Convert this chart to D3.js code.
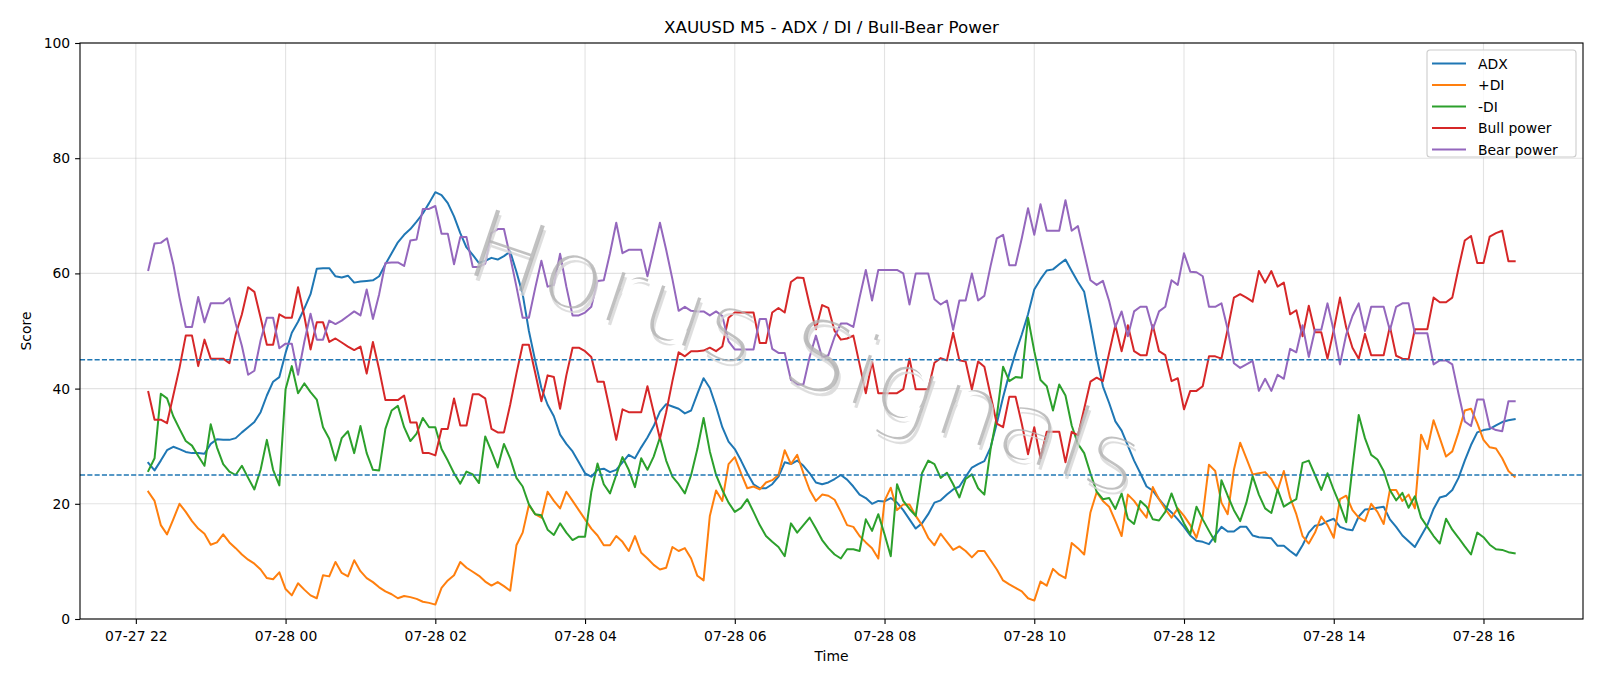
<!DOCTYPE html>
<html>
<head>
<meta charset="utf-8">
<script src="https://cdn.jsdelivr.net/npm/d3@7"></script>
<style>
  body { margin: 0; background: #fff; }
  svg { display: block; font-family: 'DejaVu Sans', sans-serif; }
</style>
</head>
<body>
<script>
const width = 1600;
const height = 686;
const margin = { top: 43, right: 17, bottom: 67, left: 80 };

// M5 bars, first one at 07-27 22:10
const startTime = new Date(2025, 6, 27, 22, 10);
const stepMinutes = 5;

const yTicks = [0, 20, 40, 60, 80, 100];
const levels = [25, 45];

const adx = [
  27.1, 25.8, 27.5, 29.3, 29.9, 29.5, 29.0, 28.8, 28.8, 28.7, 30.4, 31.2, 31.1, 31.1, 31.4, 32.4, 33.3, 34.2, 35.9, 38.8,
  41.2, 42.0, 46.2, 49.7, 51.6, 53.9, 56.4, 60.8, 60.9, 60.9, 59.5, 59.3, 59.6, 58.4, 58.6, 58.7, 58.8, 59.5, 61.6, 63.5,
  65.4, 66.7, 67.7, 69.0, 70.4, 72.2, 74.1, 73.6, 72.2, 69.9, 67.0, 64.5, 63.2, 61.8, 62.2, 62.7, 62.4, 63.0, 63.8, 60.3,
  56.4, 50.0, 44.9, 40.1, 37.2, 35.2, 32.0, 30.4, 29.1, 27.2, 25.3, 24.7, 25.9, 26.1, 25.5, 25.9, 27.2, 28.5, 27.9, 29.8,
  31.5, 33.5, 36.0, 37.3, 36.9, 36.5, 35.7, 36.2, 39.1, 41.8, 40.1, 36.9, 33.3, 30.8, 29.5, 27.5, 25.3, 23.4, 22.7, 22.7,
  23.4, 24.7, 27.2, 26.9, 27.5, 26.6, 25.3, 23.7, 23.4, 23.7, 24.3, 25.0, 24.2, 23.0, 21.6, 21.0, 20.0, 20.5, 20.4, 21.0,
  20.2, 18.9, 17.3, 15.7, 16.6, 18.2, 20.2, 20.6, 21.6, 22.5, 23.0, 24.7, 26.3, 26.9, 27.4, 29.8, 34.0, 38.5, 42.6, 46.2,
  49.4, 52.9, 57.2, 59.0, 60.5, 60.7, 61.6, 62.4, 60.4, 58.5, 56.8, 51.3, 45.5, 40.4, 37.5, 34.3, 32.7, 30.1, 27.5, 25.3,
  23.0, 22.3, 20.8, 19.5, 18.5, 17.3, 16.0, 14.5, 13.6, 13.4, 13.0, 14.5, 16.0, 15.2, 15.2, 16.0, 16.0, 14.5, 14.2, 14.1,
  14.0, 12.7, 12.7, 11.8, 11.0, 12.8, 15.0, 16.2, 16.4, 17.0, 17.4, 16.0, 15.6, 15.4, 17.8, 19.0, 19.1, 19.3, 19.5, 17.3,
  16.0, 14.5, 13.5, 12.5, 14.4, 16.3, 19.1, 21.1, 21.4, 22.4, 24.5, 27.5, 30.2, 32.4, 32.8, 33.0, 33.6, 34.2, 34.5, 34.7
];

const plusDi = [
  22.1, 20.5, 16.3, 14.7, 17.3, 20.0, 18.6, 17.0, 15.7, 14.8, 12.9, 13.3, 14.7, 13.3, 12.3, 11.2, 10.3, 9.6, 8.6, 7.1,
  6.9, 8.1, 5.2, 4.1, 6.2, 5.1, 4.1, 3.6, 7.6, 7.4, 9.9, 8.0, 7.4, 10.2, 8.3, 7.1, 6.4, 5.5, 4.8, 4.3,
  3.6, 4.0, 3.8, 3.5, 3.0, 2.8, 2.5, 5.4, 6.7, 7.6, 9.9, 8.9, 8.2, 7.5, 6.5, 5.8, 6.4, 5.7, 4.9, 12.8,
  15.0, 19.8, 18.2, 17.6, 22.1, 20.5, 19.2, 22.1, 20.5, 18.9, 17.3, 15.7, 14.5, 12.8, 12.8, 14.4, 13.4, 11.8, 14.4, 11.5,
  10.5, 9.4, 8.6, 8.9, 12.5, 11.8, 12.3, 10.5, 7.5, 6.7, 17.9, 22.3, 20.5, 26.9, 28.1, 25.3, 22.7, 23.0, 22.5, 23.7,
  24.1, 25.0, 29.3, 26.9, 28.5, 25.3, 22.4, 20.5, 21.6, 21.4, 20.7, 18.6, 16.3, 16.0, 14.4, 13.3, 12.3, 10.5, 20.5, 22.8,
  18.9, 19.9, 19.9, 17.9, 16.3, 14.1, 12.8, 14.8, 13.4, 12.0, 12.6, 11.8, 10.7, 11.8, 11.8, 10.2, 8.6, 6.7, 6.0, 5.4,
  4.8, 3.6, 3.2, 6.5, 5.8, 8.7, 7.7, 7.1, 13.2, 12.3, 11.2, 18.5, 22.0, 20.5, 19.5, 17.0, 14.4, 21.6, 20.5, 19.0,
  17.6, 22.9, 20.8, 19.1, 17.6, 19.2, 17.9, 16.3, 14.1, 17.9, 26.8, 25.7, 20.2, 18.2, 25.9, 30.6, 27.9, 25.1, 25.3, 25.5,
  24.3, 22.3, 25.7, 21.1, 18.2, 14.4, 13.1, 15.0, 17.8, 16.3, 14.1, 20.8, 21.4, 18.9, 17.6, 17.0, 20.0, 18.6, 16.5, 22.4,
  22.4, 20.5, 21.6, 19.2, 32.0, 29.5, 34.5, 31.4, 28.2, 29.1, 32.4, 36.2, 36.5, 34.0, 31.1, 29.8, 29.6, 27.9, 25.7, 24.7
];

const minusDi = [
  25.7, 27.9, 39.1, 38.3, 35.2, 33.0, 30.9, 30.1, 28.3, 26.6, 33.8, 29.8, 26.9, 25.6, 25.0, 26.6, 24.5, 22.5, 25.9, 31.1,
  25.9, 23.2, 39.9, 43.9, 39.2, 40.9, 39.4, 38.1, 33.3, 31.3, 27.5, 31.4, 32.6, 28.8, 33.5, 28.8, 25.9, 25.8, 33.0, 36.2,
  37.0, 33.3, 30.9, 32.2, 34.9, 33.3, 33.3, 29.5, 27.5, 25.3, 23.5, 25.6, 25.1, 23.6, 31.7, 29.1, 26.3, 30.4, 27.9, 24.5,
  23.0, 19.9, 18.2, 18.0, 15.5, 14.6, 16.6, 15.0, 13.7, 14.3, 14.3, 22.0, 27.0, 23.4, 21.8, 25.0, 28.1, 25.9, 22.9, 27.9,
  25.9, 28.2, 31.5, 27.5, 24.7, 23.4, 21.8, 25.0, 29.5, 34.9, 29.1, 25.0, 22.4, 20.2, 18.6, 19.3, 20.8, 18.6, 16.3, 14.4,
  13.4, 12.5, 10.9, 16.6, 15.0, 16.3, 17.6, 15.7, 13.7, 12.3, 11.2, 10.5, 12.1, 12.1, 11.8, 17.3, 15.3, 18.2, 14.7, 10.9,
  23.4, 20.5, 19.1, 17.9, 25.3, 27.5, 26.9, 24.5, 25.4, 23.4, 21.1, 24.3, 25.1, 22.7, 21.6, 29.5, 35.2, 43.8, 41.3, 42.0,
  41.9, 52.3, 46.5, 41.5, 40.4, 36.2, 40.7, 38.8, 33.6, 30.4, 28.8, 25.3, 22.1, 20.8, 21.0, 19.1, 21.8, 17.4, 16.5, 20.5,
  19.5, 17.3, 17.1, 18.6, 21.8, 18.9, 16.6, 14.7, 19.5, 17.3, 15.3, 13.4, 24.1, 21.4, 18.9, 17.0, 20.2, 24.8, 21.6, 19.2,
  18.4, 22.5, 19.5, 20.2, 20.8, 27.1, 27.5, 25.0, 22.4, 25.3, 22.4, 19.8, 16.8, 26.3, 35.4, 31.4, 28.5, 27.7, 25.7, 22.4,
  20.6, 21.9, 19.3, 21.3, 17.6, 16.0, 14.4, 13.1, 17.4, 15.5, 14.1, 12.6, 11.2, 15.0, 14.2, 12.9, 12.1, 12.0, 11.6, 11.4
];

const bullPower = [
  39.4, 34.6, 34.6, 34.0, 38.8, 43.6, 49.2, 49.2, 43.9, 48.5, 45.2, 45.2, 45.2, 44.4, 49.4, 52.9, 57.6, 56.8, 52.3, 47.6,
  47.6, 52.9, 52.3, 52.3, 57.6, 52.6, 46.8, 51.5, 51.5, 48.1, 48.7, 48.0, 47.3, 46.7, 47.3, 42.6, 48.1, 43.3, 38.0, 38.0,
  38.0, 38.8, 34.1, 34.1, 28.8, 28.8, 28.4, 33.0, 33.0, 38.3, 33.6, 33.6, 39.0, 39.0, 38.3, 33.0, 32.4, 32.4, 37.2, 42.6,
  47.6, 47.6, 42.8, 37.8, 42.3, 42.0, 36.5, 42.3, 47.1, 47.1, 46.5, 45.5, 41.2, 41.2, 36.2, 31.1, 36.4, 35.9, 35.9, 35.9,
  40.4, 35.9, 31.3, 35.9, 41.3, 46.3, 45.6, 46.5, 46.5, 46.6, 47.1, 46.5, 47.3, 52.3, 53.2, 53.2, 53.2, 53.2, 47.9, 47.9,
  53.2, 54.0, 53.2, 58.5, 59.3, 59.2, 54.5, 50.3, 54.5, 54.0, 50.0, 48.5, 48.7, 49.2, 44.2, 39.2, 44.7, 39.2, 39.2, 39.2,
  39.2, 39.9, 45.2, 39.9, 39.9, 39.9, 44.5, 45.3, 44.9, 49.7, 44.9, 44.7, 39.9, 44.7, 43.8, 38.8, 33.9, 33.3, 38.6, 38.6,
  33.9, 28.6, 33.3, 27.9, 32.5, 32.5, 32.5, 27.2, 32.5, 31.9, 36.5, 41.2, 41.9, 41.3, 46.2, 51.0, 46.5, 51.0, 46.5, 45.8,
  45.8, 51.0, 46.5, 45.8, 41.3, 41.8, 36.4, 39.6, 39.6, 40.4, 45.6, 45.6, 45.2, 50.3, 55.8, 56.4, 55.8, 55.1, 60.4, 58.4,
  60.4, 57.7, 58.4, 52.9, 53.6, 49.1, 54.4, 49.8, 49.8, 45.2, 50.2, 55.8, 50.6, 47.1, 45.2, 49.5, 45.8, 45.8, 45.8, 50.8,
  45.7, 45.2, 45.1, 50.3, 50.3, 50.3, 55.8, 55.0, 55.0, 55.8, 60.9, 65.7, 66.5, 61.8, 61.8, 66.4, 67.0, 67.4, 62.1, 62.1
];

const bearPower = [
  60.6, 65.2, 65.3, 66.1, 61.6, 55.8, 50.7, 50.7, 55.9, 51.5, 54.8, 54.8, 54.8, 55.7, 51.3, 47.4, 42.4, 43.1, 48.4, 52.3,
  52.3, 47.0, 47.8, 47.8, 42.4, 48.1, 53.0, 48.5, 48.5, 51.8, 51.2, 51.8, 52.6, 53.4, 52.7, 57.2, 52.1, 56.4, 61.8, 61.9,
  61.9, 61.3, 65.7, 65.9, 71.2, 71.2, 71.7, 66.9, 66.9, 61.6, 66.3, 66.3, 61.1, 61.1, 61.7, 67.0, 67.7, 67.7, 62.9, 57.7,
  52.3, 52.3, 57.4, 62.2, 57.7, 58.0, 63.4, 57.7, 52.7, 52.7, 53.2, 54.2, 58.7, 58.8, 63.5, 68.8, 63.5, 64.1, 64.1, 64.1,
  59.5, 64.1, 68.8, 64.1, 59.0, 53.5, 54.2, 53.5, 53.4, 53.4, 52.7, 53.4, 52.6, 48.2, 46.8, 46.8, 46.8, 46.8, 52.1, 52.1,
  46.9, 46.2, 46.2, 41.5, 40.7, 40.7, 45.5, 49.2, 45.4, 45.8, 49.0, 51.3, 51.3, 50.7, 55.8, 60.6, 55.3, 60.6, 60.6, 60.6,
  60.6, 60.0, 54.6, 60.0, 60.0, 60.0, 55.5, 54.6, 55.3, 50.2, 55.3, 55.3, 60.0, 55.3, 56.1, 61.3, 66.1, 66.7, 61.4, 61.4,
  66.1, 71.3, 66.7, 72.0, 67.4, 67.4, 67.4, 72.7, 67.4, 68.2, 63.5, 58.8, 58.0, 58.7, 55.2, 50.7, 53.4, 49.1, 53.4, 54.2,
  54.2, 50.3, 53.4, 54.2, 58.8, 58.0, 63.5, 60.3, 60.2, 59.5, 54.2, 54.2, 54.8, 50.3, 44.4, 43.6, 44.2, 44.8, 39.6, 41.7,
  39.6, 42.4, 41.7, 46.9, 46.3, 51.0, 45.5, 50.2, 50.2, 54.8, 50.0, 44.2, 49.4, 52.6, 54.8, 50.0, 54.2, 54.2, 54.2, 50.1,
  54.2, 54.8, 54.8, 49.6, 49.6, 49.6, 44.2, 44.9, 44.9, 44.2, 39.1, 34.3, 33.5, 38.1, 38.1, 33.3, 32.8, 32.6, 37.8, 37.8
];

const series = [
  { name: 'ADX', values: adx, color: '#1f77b4' },
  { name: '+DI', values: plusDi, color: '#ff7f0e' },
  { name: '-DI', values: minusDi, color: '#2ca02c' },
  { name: 'Bull power', values: bullPower, color: '#d62728' },
  { name: 'Bear power', values: bearPower, color: '#9467bd' }
];

const times = adx.map((d, i) => d3.timeMinute.offset(startTime, i * stepMinutes));

const svg = d3.select('body')
  .append('svg')
  .attr('width', width)
  .attr('height', height);

const plotLeft = margin.left;
const plotRight = width - margin.right;
const plotTop = margin.top;
const plotBottom = height - margin.bottom;

// matplotlib style 5% padding on the time axis
const first = times[0];
const last = times[times.length - 1];
const pad = (last - first) * 0.05;

const x = d3.scaleTime()
  .domain([new Date(+first - pad), new Date(+last + pad)])
  .range([plotLeft, plotRight]);

const y = d3.scaleLinear()
  .domain([0, 100])
  .range([plotBottom, plotTop]);

const xTicks = x.ticks(d3.timeHour.every(2));

// grid
const grid = svg.append('g')
  .attr('stroke', '#b0b0b0')
  .attr('stroke-opacity', 0.35)
  .attr('stroke-width', 1.1);

grid.selectAll('line.gx')
  .data(xTicks)
  .enter()
  .append('line')
  .attr('x1', (d) => x(d))
  .attr('x2', (d) => x(d))
  .attr('y1', plotTop)
  .attr('y2', plotBottom);

grid.selectAll('line.gy')
  .data(yTicks)
  .enter()
  .append('line')
  .attr('x1', plotLeft)
  .attr('x2', plotRight)
  .attr('y1', (d) => y(d))
  .attr('y2', (d) => y(d));

// series
const line = d3.line()
  .x((d, i) => x(times[i]))
  .y((d) => y(d));

svg.append('g')
  .selectAll('path')
  .data(series)
  .enter()
  .append('path')
  .attr('fill', 'none')
  .attr('stroke', (d) => d.color)
  .attr('stroke-width', 2)
  .attr('stroke-linejoin', 'round')
  .attr('stroke-linecap', 'square')
  .attr('d', (d) => line(d.values));

// 25 / 45 levels
svg.append('g')
  .selectAll('line')
  .data(levels)
  .enter()
  .append('line')
  .attr('x1', plotLeft)
  .attr('x2', plotRight)
  .attr('y1', (d) => y(d))
  .attr('y2', (d) => y(d))
  .attr('stroke', '#1f77b4')
  .attr('stroke-width', 1.4)
  .attr('stroke-dasharray', '5.1,2.2');

// watermark: thin glyphs made by eroding the regular face with a mask
const wmText = 'Horus Signals';
const wmFont = (sel) => sel
  .style('font-family', "'DejaVu Sans', sans-serif")
  .style('font-size', '103px')
  .attr('text-anchor', 'middle')
  .attr('dominant-baseline', 'central');

const defs = svg.append('defs');
defs.append('mask')
  .attr('id', 'wm-thin')
  .attr('maskUnits', 'userSpaceOnUse')
  .attr('x', -800).attr('y', -300)
  .attr('width', 1600).attr('height', 600)
  .append('text')
  .call(wmFont)
  .attr('fill', '#fff')
  .attr('stroke', '#000')
  .attr('stroke-width', 6)
  .text(wmText);

const mark = svg.append('g')
  .attr('transform', 'translate(806,352) rotate(18.6)');

// soft shadow
mark.append('g')
  .attr('transform', 'translate(3,4)')
  .append('text')
  .call(wmFont)
  .attr('mask', 'url(#wm-thin)')
  .attr('fill', '#d6d6d6')
  .attr('fill-opacity', 0.8)
  .text(wmText);

mark.append('text')
  .call(wmFont)
  .attr('mask', 'url(#wm-thin)')
  .attr('fill', '#b2b2b2')
  .attr('fill-opacity', 0.8)
  .text(wmText);

// axes
const xAxis = d3.axisBottom(x)
  .tickValues(xTicks)
  .tickFormat(d3.timeFormat('%m-%d %H'))
  .tickSizeInner(4.9)
  .tickSizeOuter(0)
  .tickPadding(7.7);

const yAxis = d3.axisLeft(y)
  .tickValues(yTicks)
  .tickSizeInner(4.9)
  .tickSizeOuter(0)
  .tickPadding(4.9);

const gx = svg.append('g')
  .attr('transform', `translate(0,${plotBottom})`)
  .call(xAxis);

const gy = svg.append('g')
  .attr('transform', `translate(${plotLeft},0)`)
  .call(yAxis);

[gx, gy].forEach((g) => {
  g.select('.domain').remove();
  g.selectAll('.tick line').attr('stroke', '#000').attr('stroke-width', 1.1);
  g.selectAll('.tick text')
    .attr('fill', '#000')
    .style('font-family', "'DejaVu Sans', sans-serif")
    .style('font-size', '13.9px');
});

// frame
svg.append('rect')
  .attr('x', plotLeft)
  .attr('y', plotTop)
  .attr('width', plotRight - plotLeft)
  .attr('height', plotBottom - plotTop)
  .attr('fill', 'none')
  .attr('stroke', '#000')
  .attr('stroke-width', 1.1);

// title and labels
svg.append('text')
  .attr('x', (plotLeft + plotRight) / 2)
  .attr('y', 33)
  .attr('text-anchor', 'middle')
  .style('font-size', '16.7px')
  .text('XAUUSD M5 - ADX / DI / Bull-Bear Power');

svg.append('text')
  .attr('x', (plotLeft + plotRight) / 2)
  .attr('y', 661)
  .attr('text-anchor', 'middle')
  .style('font-size', '13.9px')
  .text('Time');

svg.append('text')
  .attr('transform', `translate(30.5,${(plotTop + plotBottom) / 2}) rotate(-90)`)
  .attr('text-anchor', 'middle')
  .style('font-size', '13.9px')
  .text('Score');

// legend
const legend = svg.append('g')
  .attr('transform', 'translate(1427,50)');

legend.append('rect')
  .attr('width', 149)
  .attr('height', 107)
  .attr('rx', 3)
  .attr('fill', '#fff')
  .attr('fill-opacity', 0.8)
  .attr('stroke', '#cccccc')
  .attr('stroke-width', 1.1);

const item = legend.selectAll('g.item')
  .data(series)
  .enter()
  .append('g')
  .attr('transform', (d, i) => `translate(0,${13.5 + i * 21.5})`);

item.append('line')
  .attr('x1', 5)
  .attr('x2', 39)
  .attr('stroke', (d) => d.color)
  .attr('stroke-width', 2);

item.append('text')
  .attr('x', 51)
  .attr('y', 5)
  .style('font-size', '13.9px')
  .text((d) => d.name);
</script>
</body>
</html>
